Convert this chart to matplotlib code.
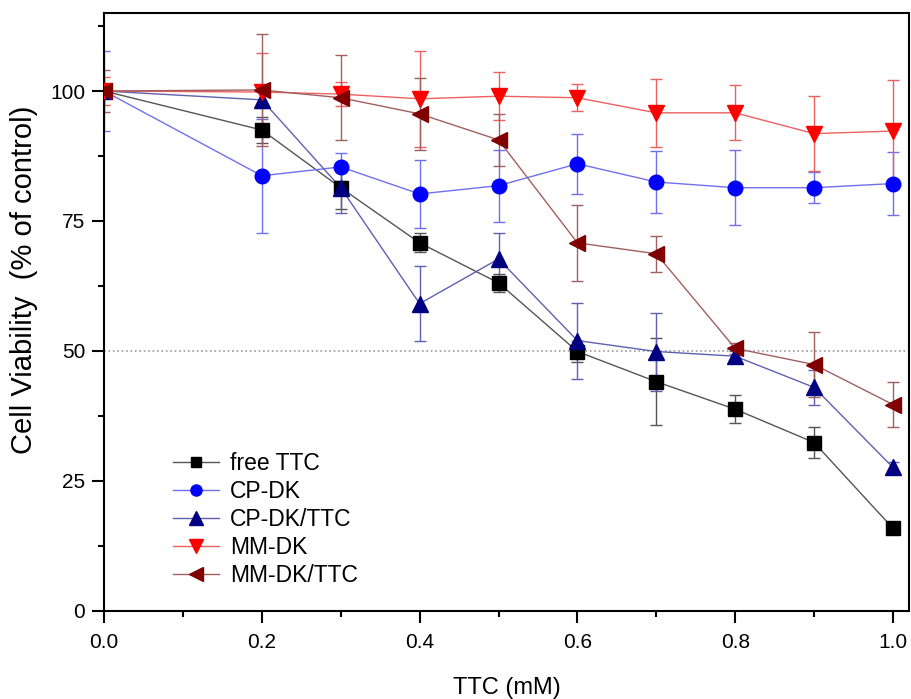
import numpy as np
import matplotlib
matplotlib.use('Agg')
import matplotlib.pyplot as plt
from matplotlib.ticker import MultipleLocator

plt.rcParams['font.family'] = ['Liberation Sans', 'DejaVu Sans']

ttc = [0.0, 0.2, 0.3, 0.4, 0.5, 0.6, 0.7, 0.8, 0.9, 1.0]

free_ttc = [100, 92.5, 81.4, 70.8, 63.1, 49.9, 44.1, 38.8, 32.4, 15.9]
free_ttc_err = [1.0, 2.5, 4.0, 1.8, 1.7, 2.0, 8.4, 2.7, 3.0, 0.5]

cp_dk = [100, 83.7, 85.4, 80.2, 81.8, 86.0, 82.5, 81.4, 81.4, 82.2]
cp_dk_err = [7.7, 11.0, 2.7, 6.6, 6.9, 5.8, 6.0, 7.2, 3.0, 6.1]

cp_dk_ttc = [100, 98.3, 81.4, 59.1, 67.7, 52.0, 49.9, 49.0, 43.0, 27.6]
cp_dk_ttc_err = [1.0, 1.5, 4.8, 7.2, 5.0, 7.3, 7.5, 1.0, 3.4, 1.0]

mm_dk = [100, 99.8, 99.4, 98.5, 99.0, 98.7, 95.8, 95.8, 91.8, 92.3]
mm_dk_err = [2.7, 7.5, 2.3, 9.2, 4.6, 2.6, 6.5, 5.3, 7.2, 9.8]

mm_dk_ttc = [100, 100.2, 98.7, 95.6, 90.6, 70.8, 68.7, 50.5, 47.4, 39.7]
mm_dk_ttc_err = [4.0, 10.7, 8.2, 6.9, 5.0, 7.3, 3.5, 1.0, 6.3, 4.3]

series = [
    ('free TTC', free_ttc, free_ttc_err, 's', 'black', '#555555', 9.5),
    ('CP-DK', cp_dk, cp_dk_err, 'o', '#0000ff', '#7070ee', 10.5),
    ('CP-DK/TTC', cp_dk_ttc, cp_dk_ttc_err, '^', '#000080', '#6060b0', 12),
    ('MM-DK', mm_dk, mm_dk_err, 'v', '#ff0000', '#ee6060', 12),
    ('MM-DK/TTC', mm_dk_ttc, mm_dk_ttc_err, '<', '#800000', '#a06060', 12),
]

fig = plt.figure(figsize=(9.11, 6.99), dpi=100)
ax = fig.add_axes([0.1142, 0.1259, 0.8836, 0.8555])

ax.axhline(50, color='#999999', linestyle=':', linewidth=1.2, zorder=1)

for label, vals, errs, mk, col, lcol, ms in series:
    ax.errorbar(ttc, vals, yerr=errs, fmt='none', ecolor=lcol, elinewidth=1.0,
                capsize=4.5, capthick=1.0, zorder=2)
    ax.plot(ttc, vals, color=lcol, linewidth=1.0, zorder=3)
    ax.plot(ttc, vals, linestyle='none', marker=mk, markersize=ms,
            markerfacecolor=col, markeredgecolor=col, zorder=4)
    ax.plot([], [], color=lcol, linewidth=1.0, marker=mk, markersize=ms - 2.5,
            markerfacecolor=col, markeredgecolor=col, label=label)

ax.set_xlim(0, 1.0203)
ax.set_ylim(0, 115)
ax.xaxis.set_major_locator(MultipleLocator(0.2))
ax.xaxis.set_minor_locator(MultipleLocator(0.1))
ax.yaxis.set_major_locator(MultipleLocator(25))
ax.yaxis.set_minor_locator(MultipleLocator(12.5))
ax.tick_params(which='major', direction='out', length=8.5, width=1.5, labelsize=15, pad=5)
ax.tick_params(axis='x', which='major', pad=7)
ax.tick_params(which='minor', direction='out', length=4.3, width=1.5)
for sp in ax.spines.values():
    sp.set_linewidth(1.5)

ax.set_xticklabels([f'{v:.1f}' for v in ax.get_xticks()])
ax.set_yticklabels([f'{v:.0f}' for v in ax.get_yticks()])

ax.set_xlabel('TTC (mM)', fontsize=17, labelpad=18)
ax.set_ylabel('Cell Viability  (% of control)', fontsize=21)
ax.yaxis.set_label_coords(-0.082, 0.553)

ax.legend(loc='upper left', bbox_to_anchor=(0.074, 0.282), frameon=False,
          fontsize=16.5, handlelength=2.0, handletextpad=0.5, labelspacing=0.22,
          borderaxespad=0)

fig.savefig('out.png', dpi=100)
